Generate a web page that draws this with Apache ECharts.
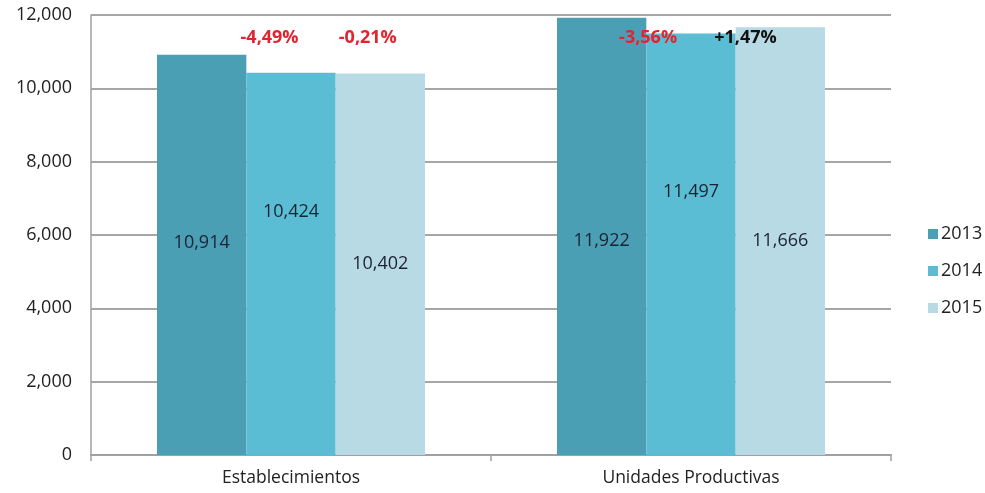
<!DOCTYPE html>
<html>
<head>
<meta charset="utf-8">
<script src="https://cdn.jsdelivr.net/npm/echarts@6/dist/echarts.min.js"></script>
<style>
  html, body { margin: 0; padding: 0; background: #ffffff; }
  #chart { width: 985px; height: 493px; }
</style>
</head>
<body>
<div id="chart"></div>
<script>
// Categories and yearly values
const categories = ['Establecimientos', 'Unidades Productivas'];
const years = ['2013', '2014', '2015'];
const values2013 = [10914, 11922];
const values2014 = [10424, 11497];
const values2015 = [10402, 11666];
const yTicks = [0, 2000, 4000, 6000, 8000, 10000, 12000];

// Year-on-year changes shown above the bars: [category index, series index, text, colour]
const changes = [
  [0, 1, '-4,49%', '#e3232f'],
  [0, 2, '-0,21%', '#e3232f'],
  [1, 1, '-3,56%', '#e3232f'],
  [1, 2, '+1,47%', '#111111']
];

// Styling
const colors = ['#4a9fb5', '#5bbdd4', '#b8dae5'];
const FONT = 'Open Sans';
// vertical placement of the value label inside each bar (fraction of bar height)
const labelY = [[0.47, 0.51], [0.365, 0.375], [0.50, 0.50]];
// horizontal anchor of each change label (fraction of the bar's width)
const changeX = [0.26, 0.36, 0.02, 0.11];
const changeLevel = 11370;

const seriesValues = [values2013, values2014, values2015];

function fmt(v) { return v.toLocaleString('en-US'); }

const series = years.map((yr, s) => ({
  name: yr,
  type: 'bar',
  barGap: '0%',
  barCategoryGap: '33%',
  itemStyle: { color: colors[s] },
  data: seriesValues[s].map((v, i) => ({
    value: v,
    label: {
      show: true,
      position: ['50%', (labelY[s][i] * 100) + '%'],
      align: 'center',
      verticalAlign: 'middle',
      formatter: () => fmt(v),
      color: '#1c2233',
      fontFamily: FONT,
      fontSize: 18
    }
  }))
}));

const chart = echarts.init(document.getElementById('chart'));
chart.setOption({
  animation: false,
  backgroundColor: '#ffffff',
  color: colors,
  grid: { left: 91, right: 94, top: 15, bottom: 38, containLabel: false },
  legend: {
    orient: 'vertical',
    left: 923,
    top: 220,
    itemWidth: 10,
    itemHeight: 10,
    itemGap: 13 + 6,
    icon: 'rect',
    data: years,
    textStyle: { fontFamily: FONT, fontSize: 18, color: '#222222', padding: [0, 0, 0, -2] }
  },
  xAxis: {
    type: 'category',
    data: categories,
    axisLine: { lineStyle: { color: '#a0a0a0', width: 2 } },
    axisTick: { show: true, alignWithLabel: false, length: 6, lineStyle: { color: '#a0a0a0', width: 1.5 } },
    axisLabel: { fontFamily: FONT, fontSize: 17.5, color: '#222222', margin: 14 }
  },
  yAxis: {
    type: 'value',
    min: yTicks[0],
    max: yTicks[yTicks.length - 1],
    interval: yTicks[1] - yTicks[0],
    axisLine: { show: true, lineStyle: { color: '#a0a0a0', width: 1.5 } },
    axisTick: { show: false },
    splitLine: { lineStyle: { color: '#a6a6a6', width: 2 } },
    axisLabel: {
      fontFamily: FONT, fontSize: 18, color: '#222222', margin: 19,
      formatter: v => fmt(v)
    }
  },
  series: series
});

// Change labels anchored to the laid-out bars
const texts = changes.map((c, k) => {
  const [ci, si, txt, col] = c;
  const layout = chart.getModel().getSeriesByIndex(si).getData().getItemLayout(ci);
  const y = chart.convertToPixel({ yAxisIndex: 0 }, changeLevel);
  return {
    type: 'text',
    x: layout.x + layout.width * changeX[k],
    y: y,
    z: 100,
    style: {
      text: txt,
      fill: col,
      font: 'bold 18px "' + FONT + '"',
      align: 'center',
      verticalAlign: 'middle'
    }
  };
});
chart.setOption({ graphic: texts });
</script>
</body>
</html>
